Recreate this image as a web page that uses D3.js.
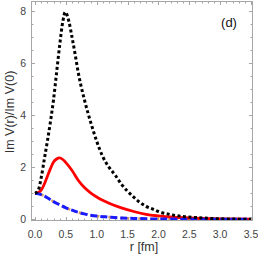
<!DOCTYPE html>
<html>
<head>
<meta charset="utf-8">
<script src="https://cdn.jsdelivr.net/npm/d3@7"></script>
<style>
  body { margin: 0; background: #fff; }
  svg { display: block; font-family: "Liberation Sans", Arial, sans-serif; }
</style>
</head>
<body>
<div id="chart"></div>
<script>
// DATA
const rBlack = [0, 0.05, 0.1, 0.15, 0.2, 0.25, 0.3, 0.35, 0.4, 0.45, 0.49, 0.55, 0.6, 0.65, 0.7, 0.8, 0.9, 1.0, 1.1, 1.2, 1.3, 1.4, 1.5, 1.6, 1.7, 1.8, 1.9, 2.0, 2.2, 2.4, 2.6, 2.8, 3.0, 3.25, 3.5];
const vBlack = [1, 1.1, 1.6, 2.3, 3.0, 3.75, 4.6, 5.65, 6.7, 7.6, 7.97, 7.6, 7.0, 6.35, 5.65, 4.6, 3.75, 3.0, 2.4, 2.0, 1.7, 1.35, 1.08, 0.85, 0.65, 0.5, 0.4, 0.3, 0.18, 0.11, 0.07, 0.04, 0.02, 0.01, 0];

const rRed = [0, 0.05, 0.1, 0.15, 0.2, 0.25, 0.3, 0.35, 0.4, 0.45, 0.5, 0.6, 0.7, 0.8, 0.9, 1.0, 1.2, 1.4, 1.6, 1.8, 2.0, 2.25, 2.5, 3.0, 3.5];
const vRed = [1, 1.03, 1.12, 1.35, 1.65, 1.95, 2.2, 2.32, 2.36, 2.3, 2.18, 1.88, 1.5, 1.22, 1.02, 0.86, 0.62, 0.44, 0.3, 0.19, 0.13, 0.08, 0.05, 0.02, 0.01];

const rBlue = [0, 0.1, 0.2, 0.3, 0.4, 0.5, 0.6, 0.7, 0.8, 0.9, 1.0, 1.2, 1.4, 1.6, 1.8, 2.0, 2.5, 3.0, 3.5];
const vBlue = [1, 0.95, 0.83, 0.68, 0.56, 0.44, 0.35, 0.27, 0.21, 0.16, 0.125, 0.085, 0.05, 0.035, 0.02, 0.012, 0.005, 0.002, 0];

const xTicks = [0, 0.5, 1.0, 1.5, 2.0, 2.5, 3.0, 3.5];
const yTicks = [0, 2, 4, 6, 8];

// SETUP
const W = 258, H = 262;
const svg = d3.select('#chart').append('svg').attr('width', W).attr('height', H);

const x = d3.scaleLinear().domain([-0.065, 3.532]).range([31, 253]);
const y = d3.scaleLinear().domain([-0.065, 8.396]).range([221, 1]);

const frameCol = '#a6a6a6';
const fLeft = x.range()[0], fRight = x.range()[1], fTop = y.range()[1], fBottom = y.range()[0];

// minor ticks every 0.1 in r, 0.5 in y
const xMinor = d3.range(0, 35.01, 1).map(d => d / 10);
const yMinor = d3.range(0, 16.01, 1).map(d => d / 2);

const ticks = svg.append('g').attr('stroke', frameCol).attr('stroke-width', 1);
xMinor.forEach(function(t) {
  const major = Math.abs(t * 2 - Math.round(t * 2)) < 1e-6;
  const len = major ? 4 : 2.5;
  const px = Math.round(x(t)) + 0.5;
  ticks.append('line').attr('x1', px).attr('x2', px).attr('y1', fBottom).attr('y2', fBottom - len);
  ticks.append('line').attr('x1', px).attr('x2', px).attr('y1', fTop).attr('y2', fTop + len);
});
yMinor.forEach(function(t) {
  const major = Math.abs(t / 2 - Math.round(t / 2)) < 1e-6;
  const len = major ? 4 : 2.5;
  const py = Math.round(y(t)) + 0.5;
  ticks.append('line').attr('y1', py).attr('y2', py).attr('x1', fLeft).attr('x2', fLeft + len);
  ticks.append('line').attr('y1', py).attr('y2', py).attr('x1', fRight).attr('x2', fRight - len);
});

// frame
svg.append('rect')
   .attr('x', fLeft + 0.5).attr('y', fTop + 0.5)
   .attr('width', fRight - fLeft - 1).attr('height', fBottom - fTop - 1)
   .attr('fill', 'none').attr('stroke', frameCol).attr('stroke-width', 1);

// tick labels
svg.append('g').selectAll('text')
   .data(xTicks).enter().append('text')
   .attr('x', d => x(d)).attr('y', 237.5)
   .attr('text-anchor', 'middle')
   .attr('font-size', 10.5).attr('fill', '#444')
   .text(d => d.toFixed(1));

svg.append('g').selectAll('text')
   .data(yTicks).enter().append('text')
   .attr('x', 26).attr('y', d => y(d)).attr('dy', '0.35em')
   .attr('text-anchor', 'end')
   .attr('font-size', 10.5).attr('fill', '#444')
   .text(d => d);

// axis labels
svg.append('text').attr('x', 144).attr('y', 251)
   .attr('text-anchor', 'middle').attr('font-size', 12.5).attr('fill', '#333')
   .text('r [fm]');
svg.append('text')
   .attr('transform', 'translate(14,112) rotate(-90)')
   .attr('text-anchor', 'middle').attr('font-size', 12.5).attr('fill', '#333')
   .text('Im V(r)/Im V(0)');

svg.append('text').attr('x', 229).attr('y', 27)
   .attr('text-anchor', 'middle').attr('font-size', 13).attr('fill', '#111')
   .text('(d)');

// curves
const line = d3.line().x(d => x(d[0])).y(d => y(d[1])).curve(d3.curveMonotoneX);
const zip = (a, b) => a.map((d, i) => [d, b[i]]);

svg.append('clipPath').attr('id', 'clip')
   .append('rect').attr('x', fLeft + 1).attr('y', fTop + 1)
   .attr('width', fRight - fLeft - 2).attr('height', fBottom - fTop - 2);
const plot = svg.append('g').attr('clip-path', 'url(#clip)');

plot.append('path').datum(zip(rBlue, vBlue))
   .attr('d', line).attr('fill', 'none')
   .attr('stroke', '#d19a66').attr('stroke-width', 2.5)
   .attr('stroke-dasharray', '3,3');
plot.append('path').datum(zip(rRed, vRed))
   .attr('d', line).attr('fill', 'none')
   .attr('stroke', '#ff0000').attr('stroke-width', 2.8);
plot.append('path').datum(zip(rBlue, vBlue))
   .attr('d', line).attr('fill', 'none')
   .attr('stroke', '#1a1aff').attr('stroke-width', 3)
   .attr('stroke-dasharray', '7,3');
plot.append('path').datum(zip(rBlack, vBlack))
   .attr('d', line).attr('fill', 'none')
   .attr('stroke', '#000').attr('stroke-width', 3)
   .attr('stroke-dasharray', '3,2.5');
</script>
</body>
</html>
